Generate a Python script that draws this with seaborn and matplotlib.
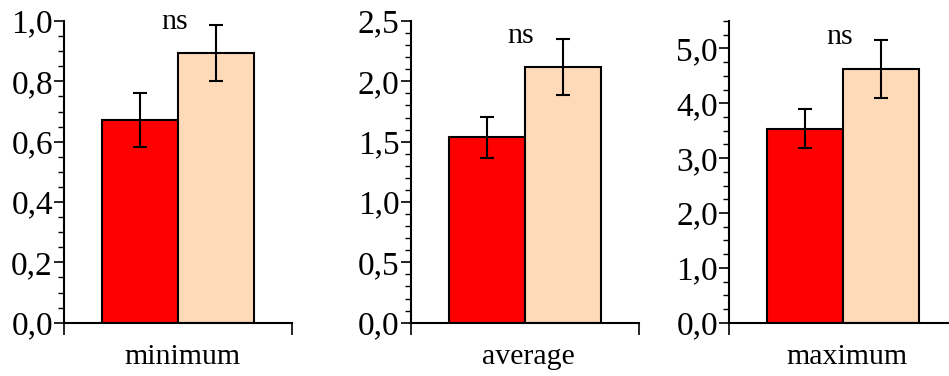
import numpy as np
import pandas as pd
import seaborn as sns
import matplotlib.pyplot as plt
from matplotlib.ticker import MultipleLocator, FuncFormatter

# ~~~ Data ~~~
measures = ["minimum", "average", "maximum"]
groups = ["group 1", "group 2"]
means_g1 = [0.672, 1.536, 3.54]
means_g2 = [0.895, 2.121, 4.62]
sem_g1 = [0.091, 0.170, 0.36]
sem_g2 = [0.093, 0.233, 0.53]
ymax = [1.0, 2.5, 5.5]
major_step = [0.2, 0.5, 1.0]
minor_step = [0.05, 0.1, 0.25]
labels_sig = ["ns", "ns", "ns"]

colors = ["#ff0000", "#ffdab9"]

df = pd.DataFrame({
    "measure": np.repeat(measures, 2),
    "group": groups * len(measures),
    "value": np.ravel(np.column_stack([means_g1, means_g2])),
    "sem": np.ravel(np.column_stack([sem_g1, sem_g2])),
})

sns.set_style("ticks", {"axes.edgecolor": "black", "text.color": "black",
                        "xtick.color": "black", "ytick.color": "black"})
plt.rcParams["font.family"] = ["Liberation Serif", "DejaVu Serif"]
plt.rcParams["font.size"] = 21.5

fig = plt.figure(figsize=(9.49, 3.76), dpi=100)
lefts = [0.0678, 0.4328, 0.7685]

for i, m in enumerate(measures):
    ax = fig.add_axes([lefts[i], 0.1418, 0.2403, 0.8023])
    sub = df[df["measure"] == m]
    sns.barplot(data=sub, x="measure", y="value", hue="group", hue_order=groups,
                palette=colors, saturation=1, errorbar=None, edgecolor="black",
                linewidth=1.5, width=0.8, legend=False, ax=ax)

    # ~~~ Error bars ~~~
    for cont, g in zip(ax.containers, groups):
        err = sub[sub["group"] == g]["sem"].values
        for bar, e in zip(cont, err):
            xc = bar.get_x() + bar.get_width() / 2
            ax.errorbar(xc, bar.get_height(), yerr=e, fmt="none", ecolor="black",
                        elinewidth=1.5, capsize=4.7, capthick=1.5, zorder=5)

    top_err = max(means_g2[i] + sem_g2[i], means_g1[i] + sem_g1[i])
    ax.text(-0.02, top_err - 0.014 * ymax[i], labels_sig[i], ha="center",
            va="baseline", fontsize=21.5, color="black")

    ax.set_xlim(-0.6, 0.6)
    ax.set_ylim(0, ymax[i])
    ax.yaxis.set_major_locator(MultipleLocator(major_step[i]))
    ax.yaxis.set_minor_locator(MultipleLocator(minor_step[i]))
    ax.yaxis.set_major_formatter(FuncFormatter(lambda v, p: f"{v:.1f}".replace(".", ",")))
    ax.tick_params(axis="y", which="major", length=7.2, width=1.2, pad=1, labelsize=24)
    ax.tick_params(axis="y", which="minor", length=4.3, width=1.0)

    ax.set_xticks([0.02])
    ax.set_xticklabels([m])
    ax.set_xticks([-0.6, 0.6], minor=True)
    ax.tick_params(axis="x", which="major", length=0, pad=15, labelsize=21.5)
    ax.tick_params(axis="x", which="minor", length=8.6, width=1.2)
    ax.set_xlabel("")
    ax.set_ylabel("")

    sns.despine(ax=ax)
    for s in ["left", "bottom"]:
        ax.spines[s].set_linewidth(1.5)
    ax.patch.set_alpha(0)

fig.savefig("out.png", dpi=100)
